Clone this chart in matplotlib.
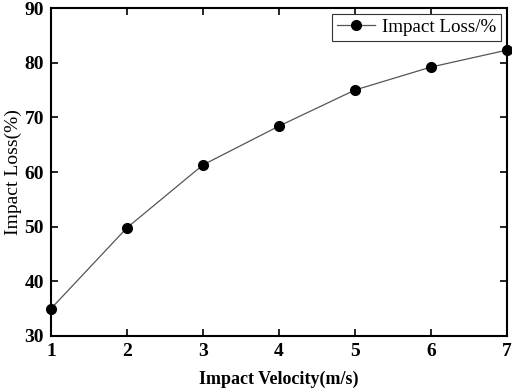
import matplotlib
matplotlib.use("Agg")
import matplotlib.pyplot as plt

velocity = [1, 2, 3, 4, 5, 6, 7]
impact_loss = [35.0, 49.8, 61.3, 68.4, 75.0, 79.2, 82.3]
xticks = [1, 2, 3, 4, 5, 6, 7]
yticks = [30, 40, 50, 60, 70, 80, 90]

plt.rcParams['font.family'] = ['Liberation Serif', 'DejaVu Serif']

fig = plt.figure(figsize=(5.12, 3.91), dpi=100)
ax = fig.add_axes([0.0996, 0.1407, 0.8906, 0.8388])
ax.plot(velocity, impact_loss, color='#555555', linewidth=0.9, marker='o',
        markersize=7, markerfacecolor='black', markeredgecolor='black',
        label='Impact Loss/%', clip_on=False, zorder=3)
ax.set_xlim(1, 7)
ax.set_ylim(30, 90)
ax.set_xticks(xticks)
ax.set_yticks(yticks)
ax.tick_params(direction='in', top=True, right=True, length=5, width=1.2,
               labelsize=14, pad=5)
for lbl in ax.get_xticklabels() + ax.get_yticklabels():
    lbl.set_fontweight('bold')
for s in ax.spines.values():
    s.set_linewidth(1.5)
ax.set_xlabel('Impact Velocity(m/s)', fontsize=13, fontweight='bold', labelpad=8)
ax.set_ylabel('Impact Loss(%)', fontsize=14, labelpad=2)
leg = ax.legend(loc='upper right', fontsize=13.7, frameon=True, fancybox=False,
                edgecolor='#333333', framealpha=1, borderpad=0.25, handlelength=2.0,
                handletextpad=0.4, borderaxespad=0.3)
leg.get_frame().set_linewidth(0.8)
fig.savefig('out.png', dpi=100)
